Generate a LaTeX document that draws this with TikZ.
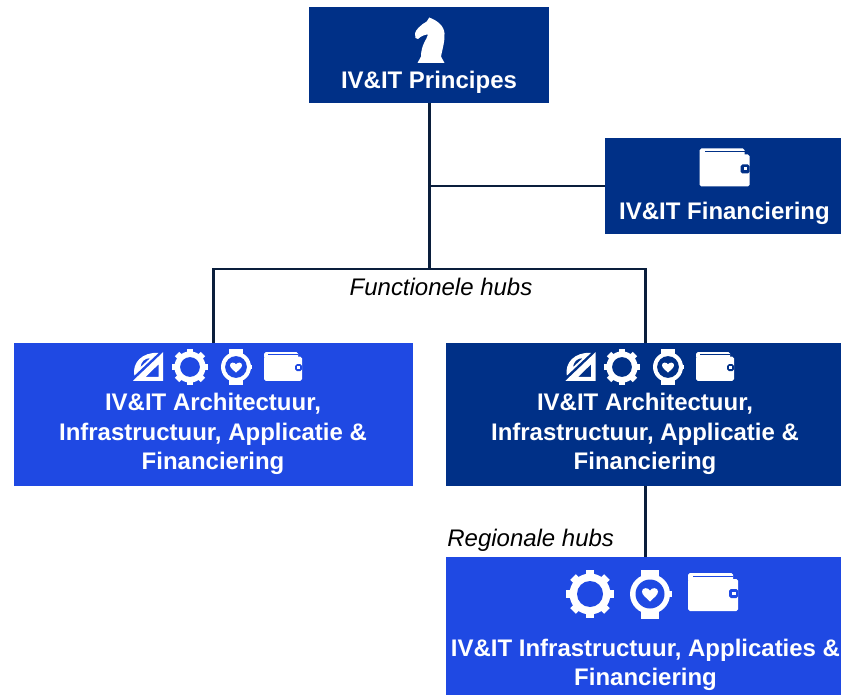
\documentclass[tikz,border=0pt]{standalone}
\usepackage{fontspec}
\setmainfont{Liberation Sans}
\usetikzlibrary{positioning}
\definecolor{hubdark}{RGB}{0,48,135}
\definecolor{hubbright}{RGB}{31,73,227}
\definecolor{linkcolor}{RGB}{10,30,60}
\tikzset{
% Two box styles: central hubs and regional or functional hubs
dark hub/.style={draw=none,fill=hubdark,inner sep=0,outer sep=0},
bright hub/.style={draw=none,fill=hubbright,inner sep=0,outer sep=0},
hub text/.style={text=white,font=\fontsize{13.65}{16.7}\selectfont\bfseries,align=center,inner sep=0},
hub label/.style={font=\fontsize{13.65}{16}\selectfont\itshape,inner sep=0},
link/.style={draw=linkcolor,line width=1.7pt},
% The icons, drawn round their own centre
wallet icon/.pic={
\fill[white,rounded corners=1] (-25,-13) rectangle (25,19);
\fill[white,rounded corners=1] (-25,-19) rectangle (20,-10);
\fill[hubcolor] (-20,-16.5) rectangle (20,-15);
\fill[hubcolor,rounded corners=1] (16,-3) rectangle (25,6);
\fill[white] (19,0) rectangle (22.5,3);
},
gear icon/.pic={
\foreach \a in {0,45,...,315}
\fill[white,rotate=\a] (-4,-24) rectangle (4,0);
\fill[white] (0,0) circle (20.5);
\fill[hubcolor] (0,0) circle (13);
},
watch icon/.pic={
\fill[white] (-9,-24.5) rectangle (9,24.5);
\fill[white] (18,-3) rectangle (21.5,3);
\fill[white] (0,0) circle (20);
\fill[hubcolor] (0,0) circle (14.5);
\fill[white] (0,7.5) .. controls (-4,3.5) and (-8,1) .. (-8,-2.5) .. controls (-8,-6.5) and (-2,-7) .. (0,-3.5) .. controls (2,-7) and (8,-6.5) .. (8,-2.5) .. controls (8,1) and (4,3.5) .. (0,7.5) -- cycle;
},
square icon/.pic={
\fill[white,even odd rule] (-20,19) -- (20,19) -- (20,-19) -- cycle (-3,13.5) -- (14,13.5) -- (14,-3) -- cycle;
\fill[white,even odd rule] (-18,12) .. controls (-21,-5) and (-8,-19) .. (14,-18) -- cycle (-10,1) .. controls (-9,-6) and (-5,-11) .. (3,-11) -- cycle;
},
knight icon/.pic={
\fill[white] (-0.7,-23) -- (-3.3,-19) .. controls (-9,-16) and (-15,-10) .. (-15,-7) -- (-14.5,-2.5) -- (-12,-1.5) .. controls (-9,-4.5) and (-5,-6) .. (-2,-6) .. controls (-3,-1) and (-9,4) .. (-9,16) -- (-12.5,22.5) -- (14.5,22.5) -- (11,16) .. controls (13,6) and (15,0) .. (14.5,-7) .. controls (14,-15) and (7,-20) .. (-0.7,-23) -- cycle;
}
}
\begin{document}
\begin{tikzpicture}[x=0.02cm,y=-0.02cm]
\useasboundingbox (0,0) rectangle (841,695);
% The boxes
\node(principes)[dark hub,minimum width=240*0.02cm,minimum height=96*0.02cm] at (429,55){};
\node(financiering)[dark hub,minimum width=236*0.02cm,minimum height=96*0.02cm] at (723,186){};
\node(functional)[bright hub,minimum width=399*0.02cm,minimum height=143*0.02cm] at (213.5,414.5){};
\node(central)[dark hub,minimum width=395*0.02cm,minimum height=143*0.02cm] at (643.5,414.5){};
\node(regional)[bright hub,minimum width=395*0.02cm,minimum height=138*0.02cm] at (643.5,626){};
% The connectors
\coordinate(trunk) at (429.5,186);
\coordinate(fork) at (429.5,269);
\coordinate(forkleft) at (213.5,269);
\coordinate(forkright) at (645,269);
\draw[link] (principes.south-|trunk) -- (fork);
\draw[link] (trunk) -- (financiering.west|-trunk);
\draw[link] (functional.north-|forkleft) -- (forkleft) -- (forkright) -- (central.north-|forkright);
\draw[link] (central.south-|forkright) -- (regional.north-|forkright);
% The texts
\node(principestext)[hub text] at (429,82){IV\&IT Principes};
\node(financieringtext)[hub text] at (724.5,213){IV\&IT Financiering};
\node(functionaltext)[hub text] at (213,434){IV\&IT Architectuur,\\Infrastructuur, Applicatie \&\\Financiering};
\node(centraltext)[hub text] at (645,434){IV\&IT Architectuur,\\Infrastructuur, Applicatie \&\\Financiering};
\node(regionaltext)[hub text] at (645.5,665){IV\&IT Infrastructuur, Applicaties \&\\Financiering};
\node(functionallabel)[hub label] at (441,287){Functionele hubs};
\node(regionallabel)[hub label,anchor=west] at (447,540){Regionale hubs};
% The icons
\colorlet{hubcolor}{hubdark}
\pic at (430,40.5) {knight icon};
\pic at (724.5,167.5) {wallet icon};
\pic[scale=0.76] at (580.5,366.5) {square icon};
\pic[scale=0.76] at (622,367) {gear icon};
\pic[scale=0.75] at (668,367) {watch icon};
\pic[scale=0.76] at (715,366.5) {wallet icon};
\colorlet{hubcolor}{hubbright}
\pic[scale=0.76] at (148,366.5) {square icon};
\pic[scale=0.76] at (190,367) {gear icon};
\pic[scale=0.75] at (236,367) {watch icon};
\pic[scale=0.76] at (283,366.5) {wallet icon};
\pic at (590,594) {gear icon};
\pic at (650,594) {watch icon};
\pic at (713,592) {wallet icon};
\end{tikzpicture}
\end{document}
